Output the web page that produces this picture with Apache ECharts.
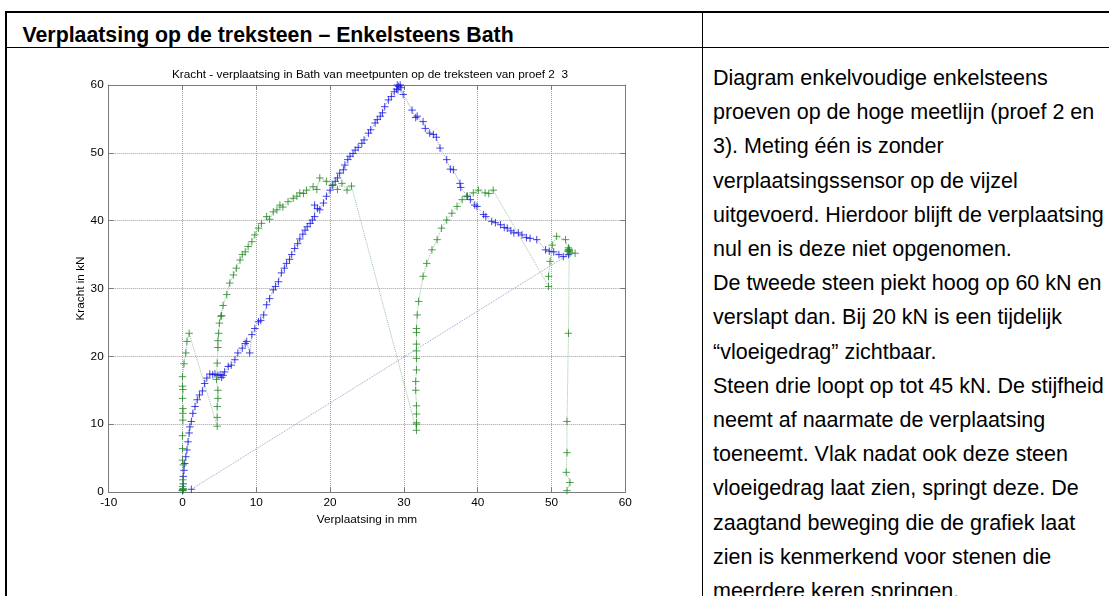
<!DOCTYPE html>
<html><head><meta charset="utf-8">
<script src="https://cdn.jsdelivr.net/npm/echarts@6/dist/echarts.min.js"></script>
<style>
html,body{margin:0;padding:0;background:#fff;width:1109px;height:596px;overflow:hidden;font-family:"Liberation Sans",Arial,sans-serif;color:#000;}
.hl{position:absolute;background:#000;}
#hdr{position:absolute;left:22.5px;top:21px;font-weight:bold;font-size:21.3px;line-height:28px;white-space:nowrap;}
#txt{position:absolute;left:713px;top:61px;font-size:21.5px;line-height:34.2px;white-space:pre;}
#chart{position:absolute;left:0;top:0;width:1109px;height:596px;}
</style></head><body>
<div class="hl" style="left:5px;top:11px;width:1104px;height:2px"></div>
<div class="hl" style="left:5px;top:11px;width:2px;height:585px"></div>
<div class="hl" style="left:5px;top:47px;width:1104px;height:1px"></div>
<div class="hl" style="left:702px;top:11px;width:1px;height:585px"></div>
<div id="hdr"></div>
<div id="txt"></div>
<div id="chart"></div>
<script>
const headerText = "Verplaatsing op de treksteen – Enkelsteens Bath";
const bodyLines = [
"Diagram enkelvoudige enkelsteens",
"proeven op de hoge meetlijn (proef 2 en",
"3). Meting één is zonder",
"verplaatsingssensor op de vijzel",
"uitgevoerd. Hierdoor blijft de verplaatsing",
"nul en is deze niet opgenomen.",
"De tweede steen piekt hoog op 60 kN en",
"verslapt dan. Bij 20 kN is een tijdelijk",
"“vloeigedrag” zichtbaar.",
"Steen drie loopt op tot 45 kN. De stijfheid",
"neemt af naarmate de verplaatsing",
"toeneemt. Vlak nadat ook deze steen",
"vloeigedrag laat zien, springt deze. De",
"zaagtand beweging die de grafiek laat",
"zien is kenmerkend voor stenen die",
"meerdere keren springen."
];
const chartTitle = "Kracht - verplaatsing in Bath van meetpunten op de treksteen van proef 2  3";
const xAxisTitle = "Verplaatsing in mm";
const yAxisTitle = "Kracht in kN";
const xTicks = [-10, 0, 10, 20, 30, 40, 50, 60];
const yTicks = [0, 10, 20, 30, 40, 50, 60];

// steen twee (blauw): [verplaatsing mm, kracht kN]
const steen2 = [
[0,0.2],[0.05,0.4],[0.1,1.2],[0.1,2.3],[0.2,3.2],[0.3,4.2],[0.45,5.2],[0.6,6.2],[0.75,7.4],[0.9,8.7],
[1.0,9.6],[1.2,10.4],[1.4,11.6],[1.7,12.6],[2.0,13.6],[2.3,14.3],[2.7,14.9],[3.0,16.0],[3.3,16.8],[3.7,17.4],
[4.1,17.3],[4.4,17.4],[4.8,17.2],[5.1,17.3],[5.3,16.9],[5.5,17.2],[5.7,17.7],[6.2,18.5],[6.6,18.7],[7.1,19.5],
[7.5,20.5],[8.1,21.2],[8.5,21.9],[8.7,22.2],[9.1,20.5],[9.4,23.2],[9.8,24.1],[10.3,25.1],[10.6,25.3],[11.0,26.1],
[11.4,27.6],[11.8,28.5],[12.3,29.8],[12.6,30.3],[13.0,31.0],[13.4,32.3],[13.8,33.0],[14.1,33.7],[14.5,34.3],[14.8,35.0],
[15.2,35.9],[15.6,36.6],[15.9,37.3],[16.3,38.0],[16.6,38.6],[16.9,39.1],[17.3,39.6],[17.6,40.1],[17.9,40.6],[17.9,42.3],
[18.3,41.8],[18.6,41.6],[19.1,42.6],[19.5,43.6],[20.0,44.5],[20.3,45.2],[20.7,45.8],[21.0,46.3],[21.3,47.0],[21.8,47.5],
[22.0,48.2],[22.4,49.0],[22.7,49.5],[23.1,49.9],[23.4,50.4],[23.8,50.8],[24.3,51.4],[24.6,51.9],[25.2,52.9],[25.5,53.4],
[26.1,54.4],[26.4,54.9],[26.8,55.4],[27.1,55.9],[27.4,56.8],[27.9,57.8],[28.3,58.3],[28.7,59.0],[29.0,59.4],[29.1,60.0],
[29.3,59.8],[29.5,60.0],[29.6,59.6],[29.2,59.3],[29.9,58.6],[31.1,56.3],[31.6,55.2],[31.8,55.4],[32.6,54.6],[32.9,53.6],
[33.5,52.9],[34.0,52.7],[34.4,52.3],[34.9,50.7],[35.8,49.0],[36.3,47.6],[36.7,47.5],[37.6,45.5],[37.7,44.9],[38.6,43.6],
[39.0,43.1],[39.6,42.3],[39.9,42.1],[40.8,40.9],[41.1,40.6],[41.9,39.9],[42.4,39.7],[43.1,39.4],[43.6,39.0],[44.0,38.9],
[44.5,38.5],[44.9,38.2],[45.5,38.2],[46.0,37.9],[46.6,37.5],[47.1,37.4],[48.0,37.2],[49.2,35.7],[49.7,35.5],[50.3,35.4],
[51.0,35.0],[51.6,34.7],[52.3,35.0],[1.2,0.4]
];

// steen drie (groen): [verplaatsing mm, kracht kN]
const steen3 = [
[0,0.2],[0.1,0.5],[0,0.8],[0.1,0.3],[0.05,1.8],[0.1,4.0],[0,4.7],[0,6.4],[0,8.3],[0.05,10.6],
[0.05,11.6],[0.05,12.3],[0,13.8],[0.05,15.1],[0,15.6],[0,17.0],[0.2,18.9],[0.45,20.5],[0.6,22.2],[0.9,23.4],
[4.7,9.7],[4.7,11.0],[4.7,12.6],[4.8,13.8],[4.8,15.0],[4.6,16.6],[4.7,19.0],[4.8,21.3],[4.8,22.3],[4.9,23.4],
[5.0,24.9],[5.2,25.9],[5.3,26.0],[5.5,27.5],[6.0,29.1],[6.4,30.8],[6.9,32.0],[7.3,33.0],[7.8,34.2],[8.1,35.0],
[8.5,35.4],[8.9,36.2],[9.4,36.9],[9.8,37.9],[10.3,38.9],[10.7,39.6],[11.4,40.6],[11.8,40.2],[12.3,41.3],[12.8,41.6],
[13.2,42.3],[13.6,42.0],[14.3,42.8],[15.0,43.3],[15.5,43.6],[15.9,44.1],[16.4,44.0],[16.8,44.5],[17.7,45.0],[18.2,44.6],
[18.6,46.3],[19.5,45.8],[20.4,45.3],[21.0,44.6],[21.6,45.5],[22.3,44.5],[22.9,45.1],
[31.7,9.1],[31.7,10.0],[31.7,10.2],[31.7,11.5],[31.7,12.7],[31.6,15.0],[31.6,16.3],[31.7,18.0],[31.7,19.7],[31.7,20.8],
[31.7,21.8],[31.7,23.5],[31.7,24.1],[31.8,26.1],[32.0,28.1],[32.6,31.8],[33.1,33.7],[33.8,35.7],[34.5,37.2],[35.1,38.9],
[35.8,40.1],[36.5,41.1],[37.2,42.1],[37.9,43.1],[38.5,43.6],[39.4,44.1],[40.1,44.5],[41.0,44.1],[41.5,44.0],[42.1,44.5],
[49.6,30.3],[49.6,31.8],[49.8,34.0],[50.1,36.4],[50.7,37.7],[51.9,37.2],[52.3,35.7],[52.4,35.4],[52.3,36.0],[52.5,35.2],
[52.4,35.8],[52.2,35.5],[53.2,35.2],[52.4,35.6],
[52.3,23.4],[52.1,10.4],[52.1,5.8],[52.0,2.9],[52.5,1.4],[52.1,0.2]
];

document.getElementById('hdr').textContent = headerText;
document.getElementById('txt').textContent = bodyLines.join('\n');

const FONT = 'Liberation Sans';
const FS = 11.8;
const boxColor = '#7a7a7a';
const plus = 'path://M0,5L10,5M5,0L5,10';

function baseAxis(ticks, pos, main, extra) {
  return Object.assign({
    type: 'value', position: pos,
    min: ticks[0], max: ticks[ticks.length - 1], interval: ticks[1] - ticks[0],
    axisLine: { show: true, onZero: false, lineStyle: { color: boxColor, width: 1 } },
    axisTick: { show: true, inside: true, length: 5, lineStyle: { color: boxColor } },
    axisLabel: { show: main, color: '#000', fontSize: FS, fontFamily: FONT, margin: 5, showMinLabel: true, showMaxLabel: true },
    splitLine: { show: main, lineStyle: { type: 'dotted', color: '#a0a0a0', width: 1 } }
  }, extra || {});
}

const chart = echarts.init(document.getElementById('chart'), null, { renderer: 'canvas' });
chart.setOption({
  animation: false,
  title: {
    text: chartTitle, left: 365, top: 64, textAlign: 'center',
    textStyle: { fontSize: FS, fontWeight: 'normal', fontFamily: FONT, color: '#000' }
  },
  grid: { left: 108.7, right: 483.7, top: 85, bottom: 104, containLabel: false },
  xAxis: [
    baseAxis(xTicks, 'bottom', true, {
      name: xAxisTitle, nameLocation: 'middle', nameGap: 20,
      nameTextStyle: { fontSize: FS, fontFamily: FONT, color: '#000' }
    }),
    baseAxis(xTicks, 'top', false)
  ],
  yAxis: [
    baseAxis(yTicks, 'left', true, {
      name: yAxisTitle, nameLocation: 'middle', nameGap: 21, nameRotate: 90,
      nameTextStyle: { fontSize: FS, fontFamily: FONT, color: '#000' }
    }),
    baseAxis(yTicks, 'right', false)
  ],
  series: [
    { type: 'line', data: steen2, xAxisIndex: 0, yAxisIndex: 0, showSymbol: false, silent: true, z: 2,
      lineStyle: { type: 'dotted', width: 1, color: '#97a0cc' } },
    { type: 'line', data: steen3, xAxisIndex: 0, yAxisIndex: 0, showSymbol: false, silent: true, z: 2,
      lineStyle: { type: 'dotted', width: 1, color: '#9cbf9c' } },
    { type: 'scatter', data: steen2, xAxisIndex: 0, yAxisIndex: 0, symbol: plus, symbolSize: 7.5, silent: true, z: 3,
      itemStyle: { color: 'rgba(0,0,0,0)', borderColor: '#1818e0', borderWidth: 1 } },
    { type: 'scatter', data: steen3, xAxisIndex: 0, yAxisIndex: 0, symbol: plus, symbolSize: 7.5, silent: true, z: 4,
      itemStyle: { color: 'rgba(0,0,0,0)', borderColor: '#238a23', borderWidth: 1 } }
  ]
});
</script>
</body></html>
